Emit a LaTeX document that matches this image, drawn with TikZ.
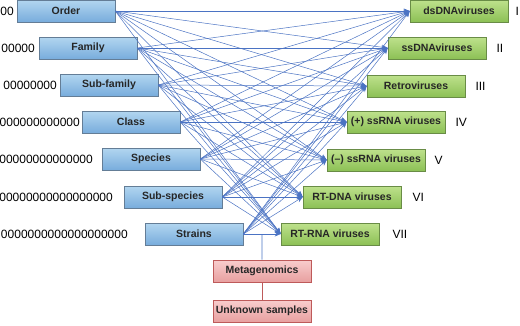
\documentclass[tikz,border=0pt]{standalone}
\usepackage{fontspec}
\setmainfont{Liberation Sans}
\usetikzlibrary{arrows.meta,shadows,calc}
\definecolor{bleuHaut}{RGB}{178,214,240}
\definecolor{bleuBas}{RGB}{120,172,220}
\definecolor{bleuBord}{RGB}{100,125,150}
\definecolor{vertHaut}{RGB}{190,225,140}
\definecolor{vertBas}{RGB}{140,192,85}
\definecolor{vertBord}{RGB}{105,140,70}
\definecolor{roseHaut}{RGB}{248,205,205}
\definecolor{roseBas}{RGB}{232,160,160}
\definecolor{roseBord}{RGB}{190,90,90}
\definecolor{lienBleu}{RGB}{75,115,195}

\begin{document}
\begin{tikzpicture}[x=1pt,y=1pt,
  boite/.style={rectangle,minimum width=98pt,minimum height=22pt,inner sep=1pt,
                font=\fontsize{10.5}{12}\selectfont\bfseries,text=black!85,line width=0.6pt,
                drop shadow={shadow xshift=1pt,shadow yshift=-1.2pt,opacity=0.25}},
  taxon/.style={boite,draw=bleuBord,top color=bleuHaut,bottom color=bleuBas},
  groupe/.style={boite,draw=vertBord,top color=vertHaut,bottom color=vertBas},
  meta/.style={boite,draw=roseBord,top color=roseHaut,bottom color=roseBas},
  lien/.style={-{Stealth[length=6pt,width=5pt]},lienBleu,line width=0.5pt},
  zeros/.style={anchor=east,inner sep=0pt,font=\fontsize{12}{14}\selectfont},
  romain/.style={anchor=west,inner sep=0pt,font=\fontsize{12}{14}\selectfont}]

  \useasboundingbox (0,0) rectangle (520,-325);

  % taxonomic levels
  \foreach \i/\lbl/\x/\y/\zx/\z in {1/Order/66/11/14/00,
      2/Family/88/48/35/00000,
      3/Sub-family/109/85/57/00000000,
      4/Class/131/122/80/000000000000,
      5/Species/151/159/93/00000000000000,
      6/Sub-species/173/197/113/00000000000000000,
      7/Strains/194/234/128/0000000000000000000}{
    \node[taxon] (tax\i) at (\x,-\y) {\lbl};
    \node[zeros] (zer\i) at (\zx,-\y) {\z};
  }

  % virus groups
  \foreach \i/\lbl/\x/\y/\r/\d in {1/dsDNAviruses/459/11/I/7,
      2/ssDNAviruses/437/48/II/10,
      3/Retroviruses/416/86/III/10,
      4/(+) ssRNA viruses/396/122/IV/10,
      5/(--) ssRNA viruses/376/160/V/9,
      6/RT-DNA viruses/352/197/VI/11,
      7/RT-RNA viruses/330/234/VII/13}{
    \node[groupe] (vir\i) at (\x,-\y) {\lbl};
    \node[romain] (rom\i) at ([xshift=\d pt]vir\i.east) {\r};
  }

  % every level to every group
  \foreach \i in {1,...,7}{
    \foreach \j in {1,...,7}{
      \draw[lien] (tax\i.east) -- (vir\j.west);
    }
  }

  \node[meta] (meta) at (262,-271) {Metagenomics};
  \node[meta] (inconnu) at (262,-311) {Unknown samples};

  \coordinate (jonction) at ($(tax7.east)!0.5!(vir7.west)$);
  \draw[lienBleu,line width=0.6pt] (meta.north) -- (jonction);
  \draw[roseBord,line width=0.8pt] (meta.south) -- (inconnu.north);
\end{tikzpicture}
\end{document}
